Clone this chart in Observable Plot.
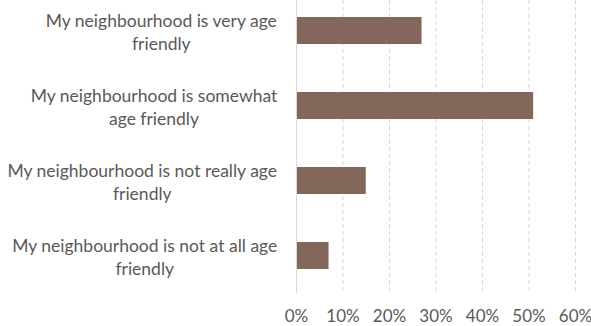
<!DOCTYPE html>
<html>
<head>
<meta charset="utf-8">
<script src="https://cdn.jsdelivr.net/npm/d3@7"></script>
<script src="https://cdn.jsdelivr.net/npm/@observablehq/plot@0.6"></script>
<style>
  html, body { margin: 0; padding: 0; background: #fff; }
  #chart svg { display: block; }
</style>
</head>
<body>
<div id="chart"></div>
<script>
const categories = [
  "My neighbourhood is very age friendly",
  "My neighbourhood is somewhat age friendly",
  "My neighbourhood is not really age friendly",
  "My neighbourhood is not at all age friendly"
];
const labelLines = [
  "My neighbourhood is very age\nfriendly",
  "My neighbourhood is somewhat\nage friendly",
  "My neighbourhood is not really age\nfriendly",
  "My neighbourhood is not at all age\nfriendly"
];
const values = [0.27, 0.51, 0.15, 0.07];
const xTicks = [0, 0.1, 0.2, 0.3, 0.4, 0.5, 0.6];

const data = categories.map((c, i) => ({category: c, label: labelLines[i], value: values[i]}));

const font = "Lato, 'Open Sans', sans-serif";
const labelSize = 17.5;
const marginLeft = 296;
const labelRight = 277;

const ctx = document.createElement("canvas").getContext("2d");
ctx.font = `${labelSize}px Lato, 'Open Sans', sans-serif`;
function blockWidth(s) {
  return Math.max(...s.split("\n").map(l => ctx.measureText(l).width));
}

const labelMarks = data.map(d => {
  const w = blockWidth(d.label);
  return Plot.text([d], {
    y: "category", text: "label", frameAnchor: "left",
    dx: labelRight - w / 2 - marginLeft, textAnchor: "middle",
    lineHeight: 1.31, fill: "#595959", fontSize: labelSize
  });
});

const chart = Plot.plot({
  width: 591,
  height: 326,
  marginLeft,
  marginRight: 16,
  marginTop: 0,
  marginBottom: 33,
  style: {fontFamily: font, fontSize: "17px", color: "#595959", background: "#fff"},
  x: {domain: [0, 0.6], ticks: xTicks, tickFormat: d3.format(".0%"), label: null},
  y: {domain: categories, range: [-7, 293], paddingInner: 0.64, paddingOuter: 0.32, axis: null},
  marks: [
    Plot.ruleX(xTicks.slice(1), {stroke: "#d9d9d9", strokeDasharray: "4,3", strokeWidth: 1}),
    Plot.barX(data, {x: "value", y: "category", fill: "#84675b"}),
    Plot.ruleX([0], {stroke: "#d9d9d9", strokeWidth: 1}),
    Plot.axisX({ticks: xTicks, tickFormat: d3.format(".0%"), tickSize: 0, tickPadding: 16, fontSize: 17, fill: "#595959", label: null}),
    ...labelMarks
  ]
});
document.getElementById("chart").append(chart);
</script>
</body>
</html>
